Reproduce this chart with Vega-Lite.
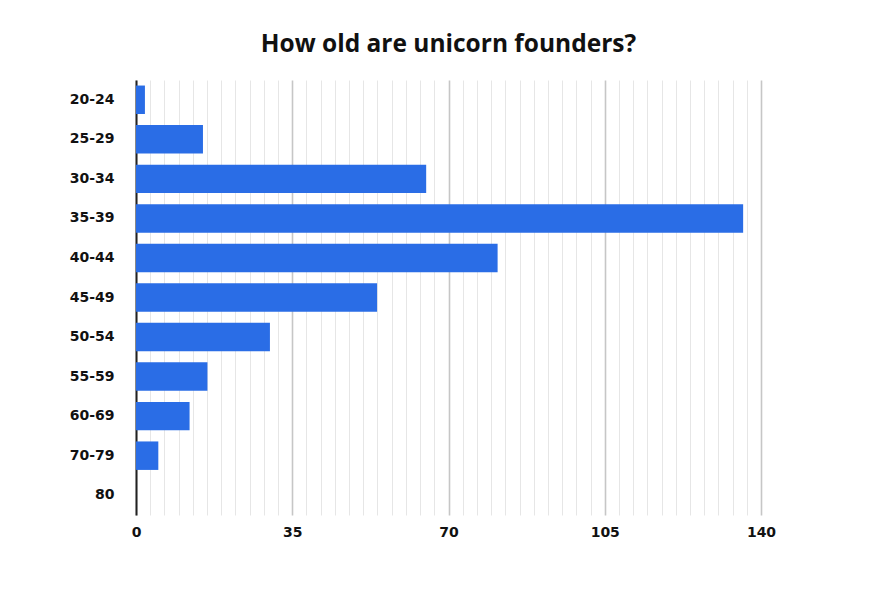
{
  "$schema": "https://vega.github.io/schema/vega-lite/v6.json",
  "width": 625,
  "height": 435,
  "autosize": {"type": "none"},
  "padding": {"left": 136, "top": 80, "right": 114, "bottom": 76},
  "background": "white",
  "config": {"view": {"stroke": null}},
  "title": {
    "text": "How old are unicorn founders?",
    "font": "Open Sans",
    "fontSize": 24.5,
    "fontWeight": "bold",
    "color": "#111111",
    "anchor": "middle",
    "offset": 23
  },
  "data": {
    "values": [
      {"age": "20-24", "count": 2},
      {"age": "25-29", "count": 15},
      {"age": "30-34", "count": 65},
      {"age": "35-39", "count": 136},
      {"age": "40-44", "count": 81},
      {"age": "45-49", "count": 54},
      {"age": "50-54", "count": 30},
      {"age": "55-59", "count": 16},
      {"age": "60-69", "count": 12},
      {"age": "70-79", "count": 5},
      {"age": "80", "count": 0}
    ]
  },
  "mark": {"type": "bar", "color": "#2a6de6"},
  "encoding": {
    "y": {
      "field": "age",
      "type": "nominal",
      "sort": null,
      "title": null,
      "scale": {"paddingInner": 0.28, "paddingOuter": 0.14},
      "axis": {
        "domain": true,
        "domainColor": "#222222",
        "domainWidth": 2,
        "ticks": false,
        "grid": false,
        "labelFont": "DejaVu Sans",
        "labelFontSize": 14,
        "labelFontWeight": "bold",
        "labelColor": "#111111",
        "labelPadding": 22
      }
    },
    "x": {
      "field": "count",
      "type": "quantitative",
      "title": null,
      "scale": {"domain": [0, 140], "nice": false},
      "axis": {
        "values": [0, 3.1818, 6.3636, 9.5455, 12.7273, 15.9091, 19.0909, 22.2727, 25.4545, 28.6364, 31.8182, 35, 38.1818, 41.3636, 44.5455, 47.7273, 50.9091, 54.0909, 57.2727, 60.4545, 63.6364, 66.8182, 70, 73.1818, 76.3636, 79.5455, 82.7273, 85.9091, 89.0909, 92.2727, 95.4545, 98.6364, 101.8182, 105, 108.1818, 111.3636, 114.5455, 117.7273, 120.9091, 124.0909, 127.2727, 130.4545, 133.6364, 136.8182, 140],
        "domain": false,
        "ticks": false,
        "grid": true,
        "gridColor": {"condition": {"test": "datum.value % 35 === 0", "value": "#c6c6c6"}, "value": "#e6e6e6"},
        "gridWidth": {"condition": {"test": "datum.value % 35 === 0", "value": 1.6}, "value": 1},
        "labelExpr": "datum.value % 35 === 0 ? datum.label : ''",
        "labelFont": "DejaVu Sans",
        "labelFontSize": 14,
        "labelFontWeight": "bold",
        "labelColor": "#111111",
        "labelPadding": 10,
        "labelFlush": false,
        "labelOverlap": false
      }
    }
  }
}
